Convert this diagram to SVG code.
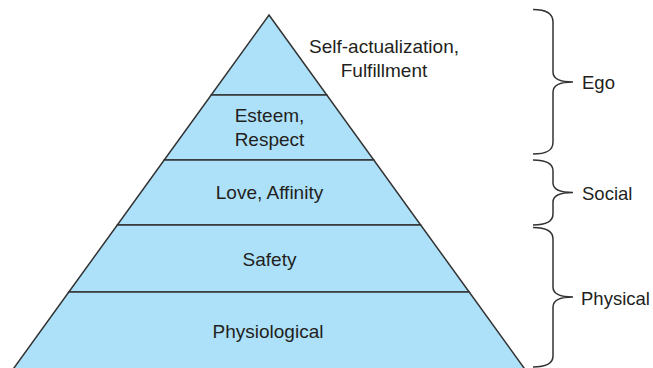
<svg xmlns="http://www.w3.org/2000/svg" width="653" height="368" viewBox="0 0 653 368">
<style>
.tier{fill:#ade1fa;stroke:#333;stroke-width:1.5;stroke-linejoin:miter}
.lbl{font-family:"Liberation Sans",Arial,sans-serif;font-size:19px;fill:#231f20}
.side{font-size:18.5px}
.mid{text-anchor:middle}
.brace{fill:none;stroke:#333;stroke-width:1.5}
</style>
<rect width="653" height="368" fill="#fff"/>
<g id="tier-self-actualization">
<polygon class="tier" points="269,15 326.8,95 211.2,95"/>
<text class="lbl mid" x="384" y="52.5">Self-actualization,</text>
<text class="lbl mid" x="384" y="76.5">Fulfillment</text>
</g>
<g id="tier-esteem">
<polygon class="tier" points="211.2,95 326.8,95 373.8,160 164.2,160"/>
<text class="lbl mid" x="269.5" y="122">Esteem,</text>
<text class="lbl mid" x="269.5" y="146">Respect</text>
</g>
<g id="tier-love">
<polygon class="tier" points="164.2,160 373.8,160 420.7,225 117.3,225"/>
<text class="lbl mid" x="269.5" y="199">Love, Affinity</text>
</g>
<g id="tier-safety">
<polygon class="tier" points="117.3,225 420.7,225 469.2,292 68.8,292"/>
<text class="lbl mid" x="269.5" y="266">Safety</text>
</g>
<g id="tier-physiological">
<polygon class="tier" points="68.8,292 469.2,292 525.5,370 12.5,370"/>
<text class="lbl mid" x="268" y="338">Physiological</text>
</g>
<g id="connectors">
<path class="brace" d="M533,9.5 C546,9.5 553,13 553,22 L553,72 C553,79 560,82 573,82 C560,82 553,85 553,92 L553,142 C553,151 546,154 533,154"/>
<path class="brace" d="M533,160 C546,160 553,163 553,171 L553,183 C553,190 560,192.5 573,192.5 C560,192.5 553,195 553,202 L553,214 C553,222 546,225 533,225"/>
<path class="brace" d="M533,227.5 C546,227.5 553,231 553,239 L553,287 C553,294 560,297 573,297 C560,297 553,300 553,307 L553,356 C553,364 546,367 533,367"/>
</g>
<g id="group-ego"><text class="lbl side" x="582" y="89">Ego</text></g>
<g id="group-social"><text class="lbl side" x="582" y="199.5">Social</text></g>
<g id="group-physical"><text class="lbl side" x="581" y="305">Physical</text></g>
</svg>
